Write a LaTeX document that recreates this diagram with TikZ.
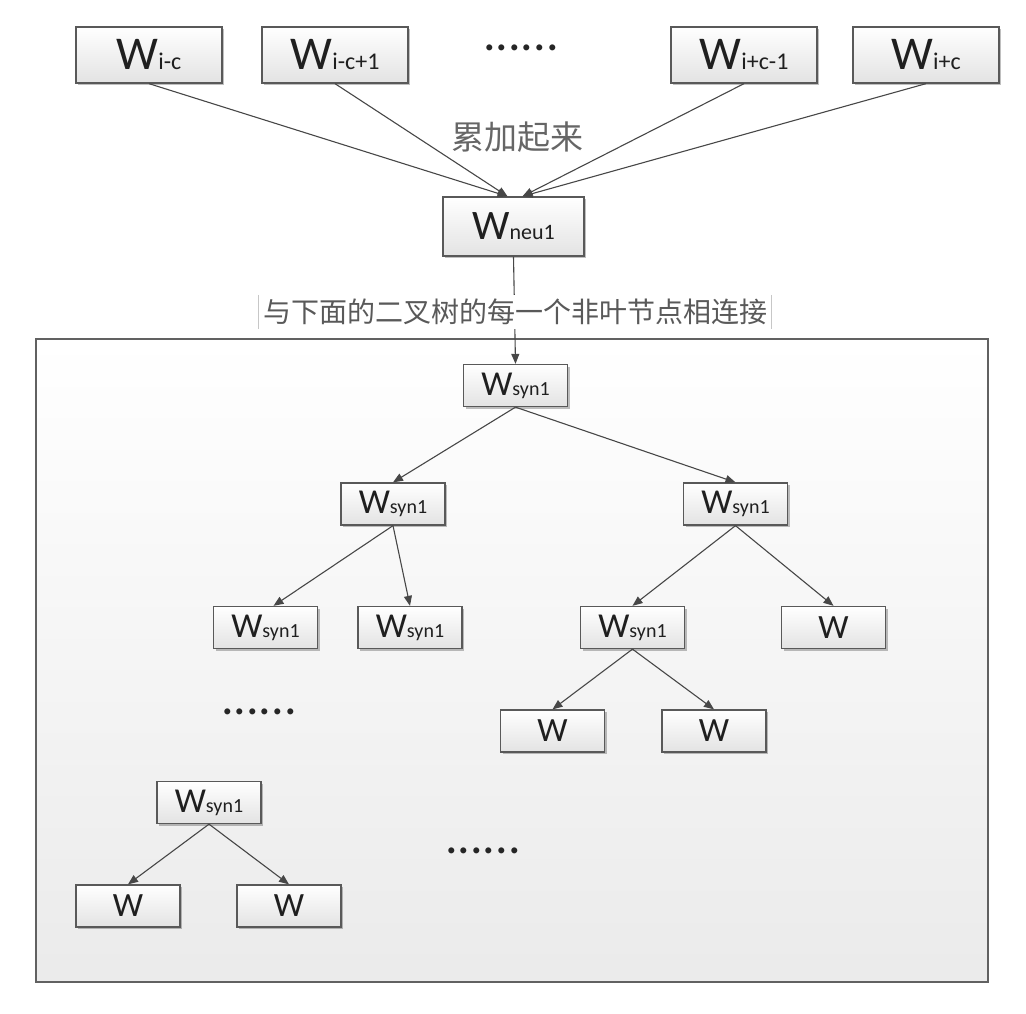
\documentclass[tikz,border=0pt]{standalone}
\usepackage{fontspec}
\setmainfont{Carlito}
\newfontfamily\cjk{Noto Sans CJK SC}
\usetikzlibrary{arrows.meta,calc,shadows}
\tikzset{
  wbox/.style={draw=black!65, line width=1.3pt, top color=white, bottom color=black!11,
    inner sep=0pt, text=black!88,
    drop shadow={shadow xshift=2pt, shadow yshift=-2pt, opacity=0.25, fill=black}},
  big/.style={wbox, minimum width=146pt, minimum height=56pt},
  small/.style={wbox, minimum width=104pt, minimum height=42pt},
  link/.style={draw=black!72, line width=1.1pt, -{Triangle[length=10pt,width=8pt]}},
  dots/.style={text=black!85, inner sep=0pt, font=\fontsize{50}{50}\selectfont}
}
\newcommand{\Wbig}[1]{{\fontsize{47}{47}\selectfont W}{\fontsize{24}{24}\selectfont #1}}
\newcommand{\Wneu}[1]{{\fontsize{42}{42}\selectfont W}{\fontsize{22}{22}\selectfont #1}}
\newcommand{\Wsyn}{{\fontsize{35}{35}\selectfont W}{\fontsize{20}{20}\selectfont syn1}}
\newcommand{\Wleaf}{{\fontsize{34}{34}\selectfont W}}
\begin{document}
\begin{tikzpicture}[x=1pt,y=-1pt]
\useasboundingbox (0,0) rectangle (1026,1014);
% frame
\node[draw=black!62, line width=2pt, top color=white, bottom color=black!8,
      minimum width=952pt, minimum height=643pt, inner sep=0pt] (frame) at (512,660.5) {};
% top row
\node[big] (a) at (149,55) {\Wbig{i-c}};
\node[big] (b) at (335,55) {\Wbig{i-c+1}};
\node[dots] (d0) at (521,48) {......};
\node[big] (c) at (744,55) {\Wbig{i+c-1}};
\node[big] (e) at (926,55) {\Wbig{i+c}};
% neu
\node[wbox, minimum width=141pt, minimum height=59pt] (neu) at (513.5,226.5) {\Wneu{neu1}};
\coordinate (inL) at ($(neu.north)+(-6,0)$);
\coordinate (inR) at ($(neu.north)+(9,0)$);
\node[text=black!60, inner sep=0pt] (sum) at (517,137) {\cjk\fontsize{33}{33}\selectfont 累加起来};
\draw[link] (a.south) -- (inL);
\draw[link] (b.south) -- (inL);
\draw[link] (c.south) -- (inR);
\draw[link] (e.south) -- (inR);
% tree
\node[small] (r) at (515.5,385.5) {\Wsyn};
\draw[link] (neu.south) -- (r.north);
\node[fill=white, inner xsep=4pt, inner ysep=0pt, minimum height=34pt, text=black!65] (lab) at (515,312)
  {\cjk\fontsize{28}{28}\selectfont 与下面的二叉树的每一个非叶节点相连接};
\draw[black!22, line width=0.8pt] (lab.north west) -- (lab.south west);
\draw[black!22, line width=0.8pt] (lab.north east) -- (lab.south east);
\node[small] (l) at (393,504) {\Wsyn};
\node[small] (rr) at (735.5,504) {\Wsyn};
\node[small] (ll) at (265.5,627.5) {\Wsyn};
\node[small] (lr) at (410,627.5) {\Wsyn};
\node[small] (rl) at (632.5,627.5) {\Wsyn};
\node[small] (rrw) at (833.5,627.5) {\Wleaf};
\node[small] (rll) at (552.5,731) {\Wleaf};
\node[small] (rlr) at (714,731) {\Wleaf};
\node[dots] (d1) at (259,712) {......};
\node[small] (s) at (209,802.5) {\Wsyn};
\node[small] (sl) at (128,906) {\Wleaf};
\node[small] (sr) at (289,906) {\Wleaf};
\node[dots] (d2) at (483,851) {......};
\draw[link] (r.south) -- (l.north);
\draw[link] (r.south) -- (rr.north);
\draw[link] (l.south) -- ($(ll.north)+(8,0)$);
\draw[link] (l.south) -- (lr.north);
\draw[link] (rr.south) -- (rl.north);
\draw[link] (rr.south) -- (rrw.north);
\draw[link] (rl.south) -- (rll.north);
\draw[link] (rl.south) -- (rlr.north);
\draw[link] (s.south) -- (sl.north);
\draw[link] (s.south) -- (sr.north);
\end{tikzpicture}
\end{document}
